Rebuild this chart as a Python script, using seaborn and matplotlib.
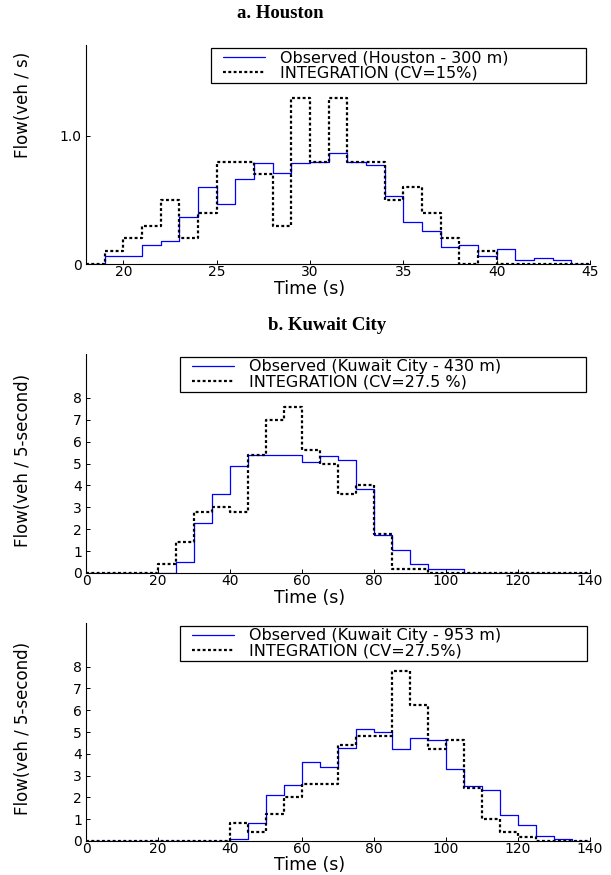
import numpy as np
import pandas as pd
import matplotlib
matplotlib.use("Agg")
import matplotlib.pyplot as plt
from matplotlib.legend_handler import HandlerLine2D
from matplotlib.lines import Line2D
import seaborn as sns

# ---- Houston, 1-second bins starting at 18 s ----
houston_start = 18
houston_bin = 1
houston_observed = [0, 0.06, 0.06, 0.15, 0.18, 0.37, 0.60, 0.47, 0.66, 0.79,
                    0.71, 0.79, 0.80, 0.87, 0.80, 0.77, 0.53, 0.33, 0.26, 0.13,
                    0.15, 0.06, 0.12, 0.03, 0.05, 0.03, 0]
houston_integration = [0, 0.1, 0.2, 0.3, 0.5, 0.2, 0.4, 0.8, 0.8, 0.7,
                       0.3, 1.3, 0.8, 1.3, 0.8, 0.8, 0.5, 0.6, 0.4, 0.2,
                       0, 0.1, 0, 0, 0, 0, 0]

# ---- Kuwait City, 5-second bins starting at 0 s ----
kuwait_start = 0
kuwait_bin = 5
kuwait430_observed = [0, 0, 0, 0, 0, 0.52, 2.29, 3.63, 4.88, 5.40,
                      5.37, 5.37, 5.05, 5.35, 5.17, 3.83, 1.72, 1.05, 0.40, 0.20,
                      0.20, 0, 0, 0, 0, 0, 0, 0]
kuwait430_integration = [0, 0, 0, 0, 0.4, 1.4, 2.8, 3.0, 2.8, 5.4,
                         7.0, 7.6, 5.6, 5.0, 3.6, 4.0, 1.8, 0.2, 0.2, 0,
                         0, 0, 0, 0, 0, 0, 0, 0]
kuwait953_observed = [0, 0, 0, 0, 0, 0, 0, 0, 0.09, 0.84,
                      2.09, 2.58, 3.63, 3.41, 4.28, 5.15, 5.00, 4.24, 4.71, 4.62,
                      3.31, 2.52, 2.35, 1.20, 0.73, 0.24, 0.08, 0]
kuwait953_integration = [0, 0, 0, 0, 0, 0, 0, 0, 0.82, 0.41,
                         1.22, 2.00, 2.62, 2.62, 4.39, 4.82, 4.82, 7.82, 6.22, 4.21,
                         4.62, 2.42, 1.00, 0.41, 0.20, 0, 0, 0]

houston_xticks = [20, 25, 30, 35, 40, 45]
houston_yticks = [0, 1.0]
houston_yticklabels = ["0", "1.0"]
kuwait_xticks = [0, 20, 40, 60, 80, 100, 120, 140]
kuwait_yticks = [0, 1, 2, 3, 4, 5, 6, 7, 8]

labels_a = ["Observed (Houston - 300 m)", "INTEGRATION (CV=15%)"]
labels_b = ["Observed (Kuwait City - 430 m)", "INTEGRATION (CV=27.5 %)"]
labels_c = ["Observed (Kuwait City - 953 m)", "INTEGRATION (CV=27.5%)"]

sns.set_style("ticks")
plt.rcParams["font.family"] = ["DejaVu Sans"]
plt.rcParams.update({
    "xtick.direction": "in", "ytick.direction": "in",
    "xtick.major.size": 3, "ytick.major.size": 3,
    "xtick.major.width": 0.7, "ytick.major.width": 0.7,
    "xtick.major.pad": 1.0, "ytick.major.pad": 3,
    "axes.linewidth": 0.8, "axes.edgecolor": "black",
    "xtick.color": "black", "ytick.color": "black",
    "text.color": "black", "axes.labelcolor": "black",
})

W, H = 611, 875
fig = plt.figure(figsize=(W / 100, H / 100), dpi=100)

LEGEND_FS = 11.5
HANDLE_INSET = 7.0  # points of blank space before each legend sample line


class InsetLineHandler(HandlerLine2D):
    """Legend line sample drawn with some blank space on its left."""

    def create_artists(self, legend, orig_handle, xdescent, ydescent,
                       width, height, fontsize, trans):
        return super().create_artists(legend, orig_handle, xdescent - HANDLE_INSET,
                                      ydescent, width - HANDLE_INSET, height,
                                      fontsize, trans)


def px_axes(left, right, top, bottom):
    return fig.add_axes([left / W, 1 - bottom / H, (right - left) / W, (bottom - top) / H])


def step_frame(start, width, values):
    edges = start + width * np.arange(len(values) + 1)
    vals = list(values) + [values[-1]]
    return pd.DataFrame({"t": edges, "flow": vals})


def draw_panel(ax, start, width, observed, integration, labels):
    obs = step_frame(start, width, observed)
    integ = step_frame(start, width, integration)
    sns.lineplot(data=obs, x="t", y="flow", ax=ax, color="#0000ff", linewidth=0.9,
                 drawstyle="steps-post", errorbar=None, label=labels[0])
    sns.lineplot(data=integ, x="t", y="flow", ax=ax, color="black", linewidth=1.6,
                 linestyle=(0, (1.3, 1.1)), drawstyle="steps-post", errorbar=None,
                 label=labels[1])
    sns.despine(ax=ax)
    ax.tick_params(labelsize=10)
    ax.set_xlabel("Time (s)", fontsize=12.5, va="center")
    ax.xaxis.set_label_coords(0.444, -0.112)


def add_legend(ax, x0, width):
    handles, lbls = ax.get_legend_handles_labels()
    handle_len = (HANDLE_INSET + 30.0) / LEGEND_FS
    leg = ax.legend(handles, lbls, loc="upper left", bbox_to_anchor=(x0, 0.3, width, 0.686),
                    mode="expand", borderaxespad=0, fancybox=False, framealpha=1,
                    edgecolor="black", fontsize=LEGEND_FS, handlelength=handle_len,
                    handletextpad=0.95, borderpad=0.15, labelspacing=0.0,
                    handler_map={Line2D: InsetLineHandler()})
    leg.get_frame().set_linewidth(0.9)


# a. Houston
ax1 = px_axes(86, 590, 45, 264)
draw_panel(ax1, houston_start, houston_bin, houston_observed, houston_integration, labels_a)
ax1.set_xlim(18, 45)
ax1.set_ylim(0, 1.71)
ax1.set_xticks(houston_xticks)
ax1.set_yticks(houston_yticks)
ax1.set_yticklabels(houston_yticklabels)
ax1.set_ylabel("Flow(veh / s)", fontsize=12, va="center")
ax1.yaxis.set_label_coords(-0.125, 0.726)
add_legend(ax1, 0.248, 0.744)

# b. Kuwait City, 430 m
ax2 = px_axes(86, 590, 354, 573)
draw_panel(ax2, kuwait_start, kuwait_bin, kuwait430_observed, kuwait430_integration, labels_b)
ax2.set_xlim(0, 140)
ax2.set_ylim(0, 10)
ax2.set_xticks(kuwait_xticks)
ax2.set_yticks(kuwait_yticks)
ax2.set_ylabel("Flow(veh / 5-second)", fontsize=12, va="center")
ax2.yaxis.set_label_coords(-0.125, 0.516)
add_legend(ax2, 0.187, 0.806)

# Kuwait City, 953 m
ax3 = px_axes(86, 590, 623, 841)
draw_panel(ax3, kuwait_start, kuwait_bin, kuwait953_observed, kuwait953_integration, labels_c)
ax3.set_xlim(0, 140)
ax3.set_ylim(0, 10)
ax3.set_xticks(kuwait_xticks)
ax3.set_yticks(kuwait_yticks)
ax3.set_ylabel("Flow(veh / 5-second)", fontsize=12, va="center")
ax3.yaxis.set_label_coords(-0.125, 0.518)
add_legend(ax3, 0.187, 0.808)

fig.text(280 / W, 1 - 14 / H, "a. Houston", ha="center", va="center",
         family="Liberation Serif", fontweight="bold", fontsize=13.5)
fig.text(327 / W, 1 - 325 / H, "b. Kuwait City", ha="center", va="center",
         family="Liberation Serif", fontweight="bold", fontsize=13.5)

fig.savefig("out.png", dpi=100)
